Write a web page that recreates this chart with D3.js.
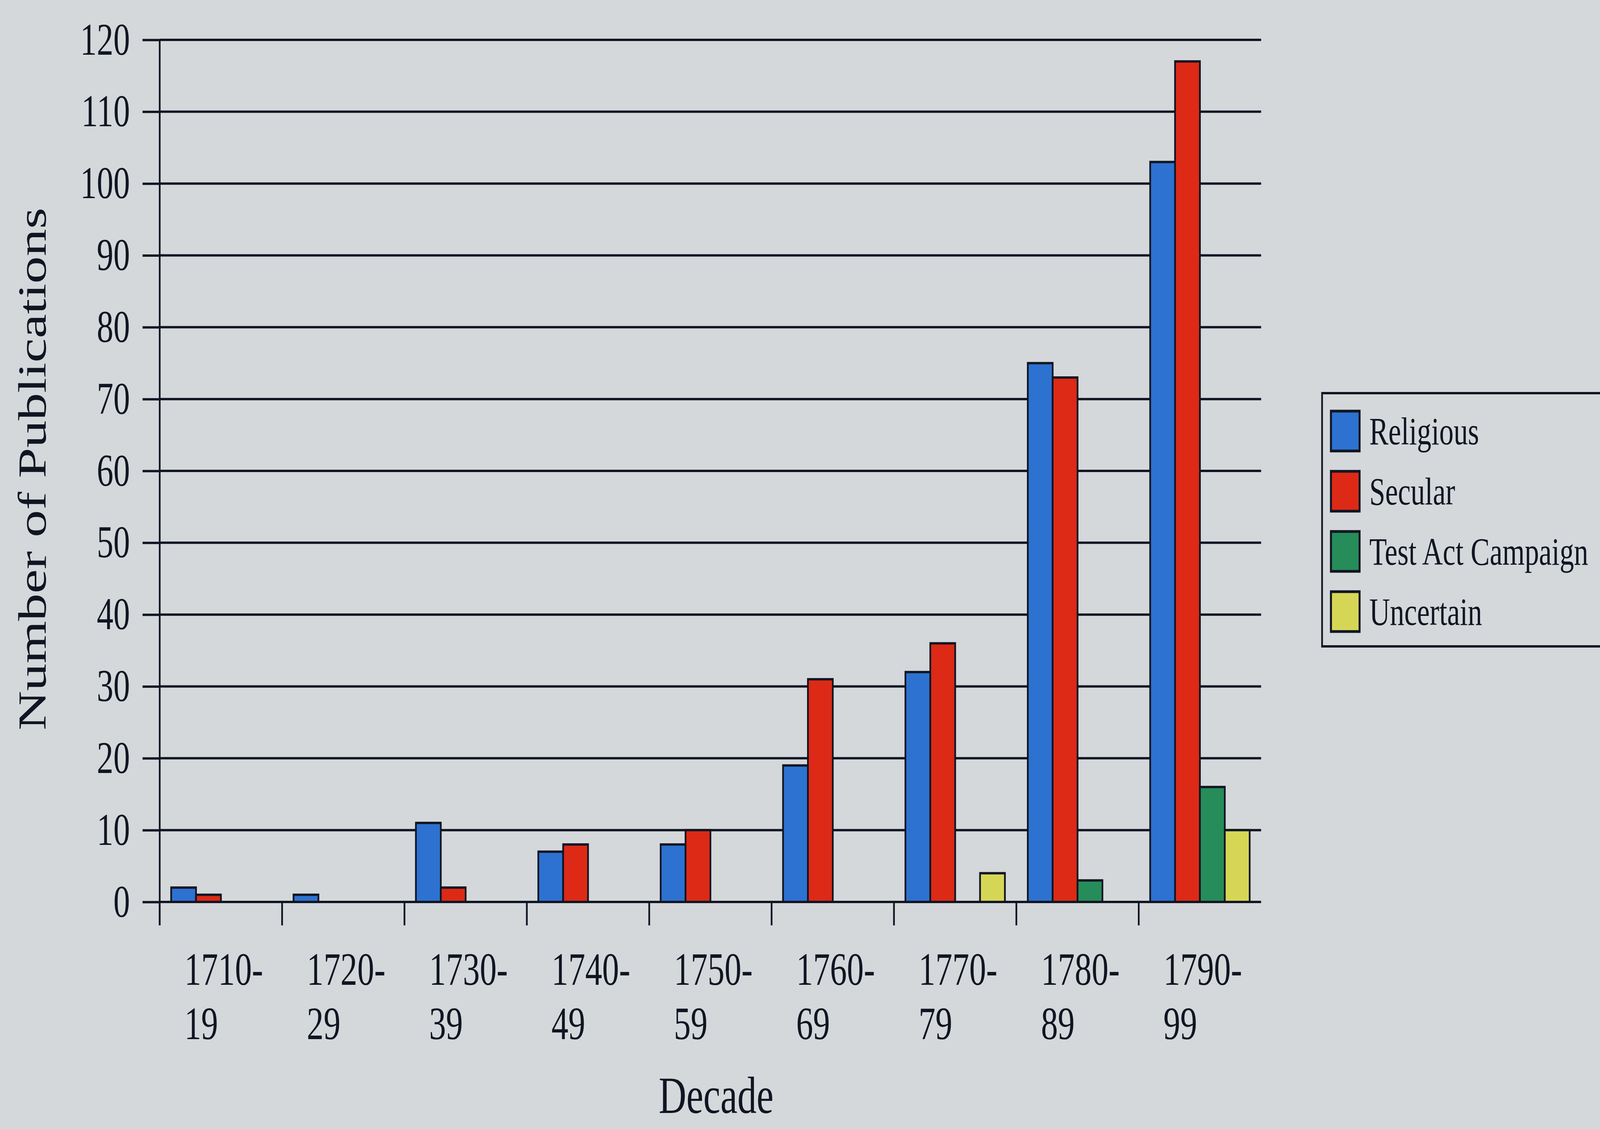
<!DOCTYPE html>
<html>
<head>
<meta charset="utf-8">
<script src="https://cdnjs.cloudflare.com/ajax/libs/d3/7.8.5/d3.min.js"></script>
<style>
  html, body { margin: 0; padding: 0; overflow: hidden; background: #d4d8db; }
  svg { display: block; }
  text { font-family: 'Liberation Serif', 'Times New Roman', serif; fill: #111522; }
</style>
</head>
<body>
<div id="chart"></div>
<script>
// data
const decades = ['1710-19', '1720-29', '1730-39', '1740-49', '1750-59', '1760-69', '1770-79', '1780-89', '1790-99']
const series = ['Religious', 'Secular', 'Test Act Campaign', 'Uncertain']
const religious = [2, 1, 11, 7, 8, 19, 32, 75, 103]
const secular = [1, 0, 2, 8, 10, 31, 36, 73, 117]
const testAct = [0, 0, 0, 0, 0, 0, 0, 3, 16]
const uncertain = [0, 0, 0, 0, 0, 0, 4, 0, 10]
const yTicks = [0, 10, 20, 30, 40, 50, 60, 70, 80, 90, 100, 110, 120]
const colors = ['#2d72d0', '#dc2a17', '#268c5a', '#d6d656']

const W = 5590
const H = 2889
const plotLeft = 558
const plotRight = 4406
const plotTop = 102
const plotBottom = 2308
const ink = '#111522'

// the drawing is laid out on a 5590x2889 board and stretched to fill the window
const svg = d3.select('#chart').append('svg')
  .attr('viewBox', '0 0 ' + W + ' ' + H)
  .attr('preserveAspectRatio', 'none')
  .style('width', '100vw')
  .style('height', '100vh')

svg.append('rect')
  .attr('width', W)
  .attr('height', H)
  .attr('fill', '#d4d8db')

const x0 = d3.scaleBand().domain(decades).range([plotLeft, plotRight]).padding(0)
const x1 = d3.scaleBand().domain(series).range([0, x0.bandwidth()]).paddingInner(0).paddingOuter(0.46)
const y = d3.scaleLinear().domain([0, 120]).range([plotBottom, plotTop])

// gridlines
svg.append('g').selectAll('line')
  .data(yTicks)
  .enter()
  .append('line')
  .attr('x1', plotLeft)
  .attr('x2', plotRight)
  .attr('y1', d => y(d))
  .attr('y2', d => y(d))
  .attr('stroke', ink)
  .attr('stroke-width', 6)

// y axis
const yAxis = svg.append('g')
  .attr('transform', 'translate(' + plotLeft + ',0)')
  .call(d3.axisLeft(y).tickValues(yTicks).tickSize(60).tickSizeOuter(0).tickPadding(44))
yAxis.select('.domain').remove()
yAxis.selectAll('.tick line').attr('stroke', ink).attr('stroke-width', 6)
yAxis.selectAll('.tick text')
  .attr('font-size', 116)
  .attr('font-family', "'Liberation Serif', serif")
  .attr('fill', ink)

svg.append('line')
  .attr('x1', plotLeft).attr('x2', plotLeft)
  .attr('y1', plotTop).attr('y2', plotBottom + 60)
  .attr('stroke', ink)
  .attr('stroke-width', 6)

// x tick marks at the category boundaries
svg.append('g').selectAll('line')
  .data(decades)
  .enter()
  .append('line')
  .attr('x1', d => x0(d))
  .attr('x2', d => x0(d))
  .attr('y1', plotBottom)
  .attr('y2', plotBottom + 60)
  .attr('stroke', ink)
  .attr('stroke-width', 6)

// bars
const rows = decades.map((d, i) => ({
  decade: d,
  values: [religious[i], secular[i], testAct[i], uncertain[i]]
}))

const group = svg.selectAll('.decade')
  .data(rows)
  .enter()
  .append('g')
  .attr('class', 'decade')
  .attr('transform', d => 'translate(' + x0(d.decade) + ',0)')

group.selectAll('rect')
  .data(d => d.values.map((v, j) => ({ key: series[j], value: v, color: colors[j] })).filter(b => b.value > 0))
  .enter()
  .append('rect')
  .attr('x', d => x1(d.key))
  .attr('width', x1.bandwidth())
  .attr('y', d => y(d.value))
  .attr('height', d => y(0) - y(d.value))
  .attr('fill', d => d.color)
  .attr('stroke', ink)
  .attr('stroke-width', 6)

// x tick labels, two lines each
const xl = svg.append('g').selectAll('text')
  .data(decades)
  .enter()
  .append('text')
  .attr('font-size', 118)
  .attr('x', d => x0(d) + 86)
  .attr('y', 2520)
xl.append('tspan').text(d => d.split('-')[0] + '-')
xl.append('tspan')
  .attr('x', d => x0(d) + 86)
  .attr('dy', 139)
  .text(d => d.split('-')[1])

// axis titles
svg.append('text')
  .attr('font-size', 134)
  .attr('text-anchor', 'middle')
  .attr('x', (plotLeft + plotRight) / 2 + 20)
  .attr('y', 2848)
  .text('Decade')

svg.append('text')
  .attr('font-size', 140)
  .attr('text-anchor', 'middle')
  .attr('transform', 'translate(160,1200) rotate(-90)')
  .text('Number of Publications')

// legend
const legend = svg.append('g')
legend.append('rect')
  .attr('x', 4619)
  .attr('y', 1006)
  .attr('width', 1100)
  .attr('height', 648)
  .attr('fill', 'none')
  .attr('stroke', ink)
  .attr('stroke-width', 6)

const item = legend.selectAll('.item')
  .data(series)
  .enter()
  .append('g')
  .attr('class', 'item')
  .attr('transform', (d, i) => 'translate(4650,' + (1052 + i * 154) + ')')

item.append('rect')
  .attr('width', 100)
  .attr('height', 102)
  .attr('fill', (d, i) => colors[i])
  .attr('stroke', ink)
  .attr('stroke-width', 7)

item.append('text')
  .attr('x', 134)
  .attr('y', 85)
  .attr('font-size', 100)
  .text(d => d)
</script>
</body>
</html>
